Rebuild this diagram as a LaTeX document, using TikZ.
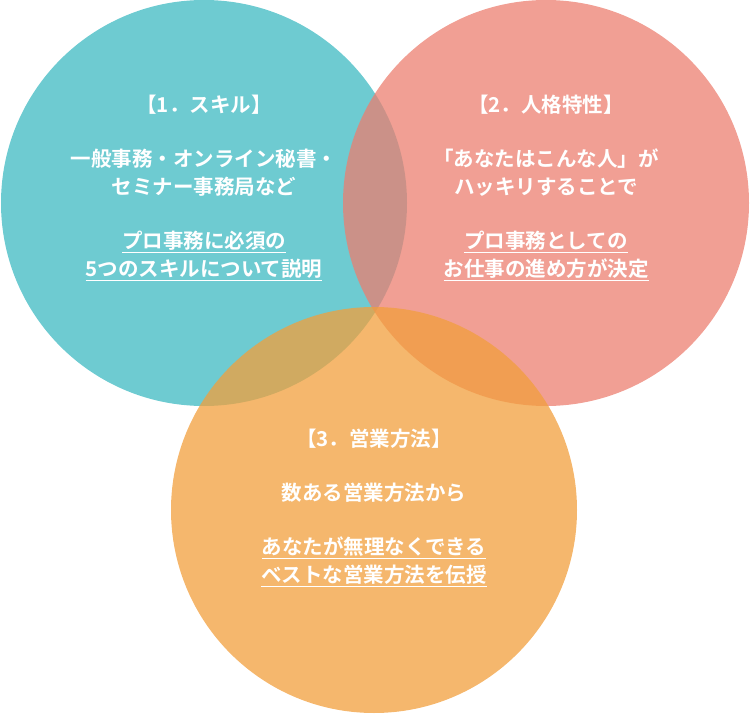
\documentclass[tikz,border=0pt]{standalone}
\usepackage{fontspec}
\newfontfamily\cjk{Noto Sans CJK JP Bold}
\definecolor{skillcol}{HTML}{3DB9C2}
\definecolor{personcol}{HTML}{EC7F70}
\definecolor{salescol}{HTML}{F29F3C}
\tikzset{
  bubble/.style={draw=none, fill opacity=0.75},
  bubbletext/.style={text=white, align=center, font=\cjk\fontsize{20.5}{28}\selectfont}
}
\newcommand{\ul}[1]{\underline{#1}}
\begin{document}
\begin{tikzpicture}[x=1pt,y=-1pt]
\useasboundingbox (0,0) rectangle (750,714);
% circles
\fill[bubble, skillcol] (204,203) circle (203);
\fill[bubble, personcol] (546,203) circle (203);
\fill[bubble, salescol] (374,510) circle (203);
% texts
\node[bubbletext] (skill) at (204,188) {【1．スキル】\\[26pt]一般事務・オンライン秘書・\\セミナー事務局など\\[26pt]\ul{プロ事務に必須の}\\\ul{5つのスキルについて説明}};
\node[bubbletext] (person) at (546,188) {【2．人格特性】\\[26pt]「あなたはこんな人」が\\ハッキリすることで\\[26pt]\ul{プロ事務としての}\\\ul{お仕事の進め方が決定}};
\node[bubbletext] (sales) at (374,508) {【3．営業方法】\\[26pt]数ある営業方法から\\[26pt]\ul{あなたが無理なくできる}\\\ul{ベストな営業方法を伝授}};
\end{tikzpicture}
\end{document}
